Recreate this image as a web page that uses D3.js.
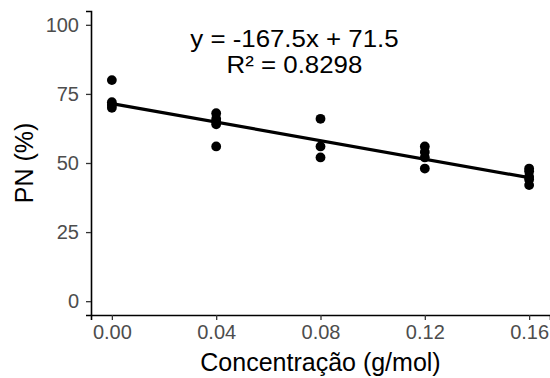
<!DOCTYPE html>
<html>
<head>
<meta charset="utf-8">
<script src="https://cdn.jsdelivr.net/npm/d3@7"></script>
<style>
  body { margin: 0; background: #fff; }
  text { font-family: "Liberation Sans", Arial, sans-serif; }
</style>
</head>
<body>
<svg id="chart" width="550" height="378"></svg>
<script>
// concentration groups and PN (%) observed at each
const conc = [0, 0, 0, 0, 0.04, 0.04, 0.04, 0.04, 0.04, 0.08, 0.08, 0.08, 0.12, 0.12, 0.12, 0.12, 0.16, 0.16, 0.16, 0.16, 0.16];
const pn = [80, 72, 71, 70, 68, 66, 65, 64, 56, 66, 56, 52, 56, 54, 52, 48, 48, 47, 45, 44, 42];

// fitted line
const slope = -167.5;
const intercept = 71.5;
const eqLabel = 'y = -167.5x + 71.5';
const r2Label = 'R² = 0.8298';

const xTicks = [0, 0.04, 0.08, 0.12, 0.16];
const yTicks = [0, 25, 50, 75, 100];

const svg = d3.select('#chart');
const m = { left: 91, right: 550, top: 11, bottom: 315 };

const x = d3.scaleLinear().domain([-0.008, 0.168]).range([m.left, m.right]);
const y = d3.scaleLinear().domain([-5, 105]).range([m.bottom, m.top]);

// axes
const xAxis = svg.append('g')
  .attr('transform', `translate(0,${m.bottom})`)
  .call(d3.axisBottom(x).tickValues(xTicks).tickFormat(d3.format('.2f')).tickSizeOuter(0).tickSize(5).tickPadding(5));
const yAxis = svg.append('g')
  .attr('transform', `translate(${m.left},0)`)
  .call(d3.axisLeft(y).tickValues(yTicks).tickSizeOuter(0).tickSize(5).tickPadding(7));

[xAxis, yAxis].forEach(a => {
  a.select('.domain').attr('stroke', '#000').attr('stroke-width', 1.6);
  a.selectAll('.tick line').attr('stroke', '#333').attr('stroke-width', 1.3);
  a.selectAll('.tick text')
    .attr('fill', '#4d4d4d')
    .style('font-size', '20px');
});

// points
svg.append('g').selectAll('circle')
  .data(conc)
  .enter().append('circle')
  .attr('cx', d => x(d))
  .attr('cy', (d, i) => y(pn[i]))
  .attr('r', 4.9)
  .attr('fill', '#000');

// regression line
const xr = d3.extent(conc);
svg.append('line')
  .attr('x1', x(xr[0])).attr('y1', y(slope * xr[0] + intercept))
  .attr('x2', x(xr[1])).attr('y2', y(slope * xr[1] + intercept))
  .attr('stroke', '#000')
  .attr('stroke-width', 3.2);

// equation (glyphs a bit wider than tall in the source image)
const ann = svg.append('g')
  .attr('transform', `translate(${x(0.07)},${y(92)}) scale(1.1,1)`)
  .append('text')
  .attr('text-anchor', 'middle')
  .attr('fill', '#000')
  .style('font-size', '23.5px');
ann.append('tspan').attr('x', 0).attr('y', 0).text(eqLabel);
ann.append('tspan').attr('x', 0).attr('y', 26).text(r2Label);

// axis titles
svg.append('text')
  .attr('x', (m.left + m.right) / 2)
  .attr('y', 371)
  .attr('text-anchor', 'middle')
  .style('font-size', '25px')
  .text('Concentração (g/mol)');

svg.append('text')
  .attr('transform', `translate(33,${(m.top + m.bottom) / 2}) rotate(-90)`)
  .attr('text-anchor', 'middle')
  .style('font-size', '25px')
  .text('PN (%)');
</script>
</body>
</html>
